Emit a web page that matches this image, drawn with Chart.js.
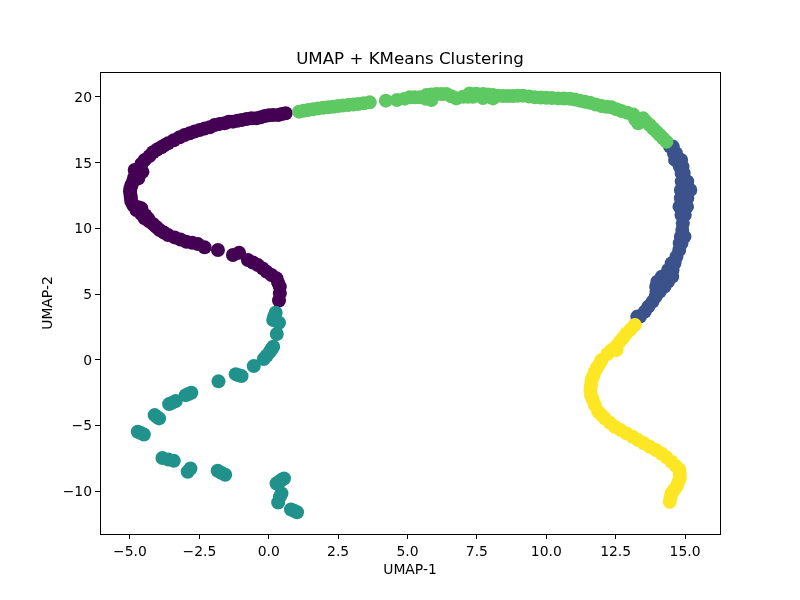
<!DOCTYPE html>
<html>
<head>
<meta charset="utf-8">
<title>UMAP + KMeans Clustering</title>
<script src="https://cdn.jsdelivr.net/npm/chart.js@4"></script>
<style>
  html, body { margin: 0; padding: 0; background: #fff; }
  canvas { display: block; }
</style>
</head>
<body>
<canvas id="chart" width="800" height="600"></canvas>
<script>
const xTicks = [-5, -2.5, 0, 2.5, 5, 7.5, 10, 12.5, 15];
const yTicks = [-10, -5, 0, 5, 10, 15, 20];

const purpleX = [0.61, 0.47, 0.34, 0.16, 0.01, -0.14, -0.29, -0.44, -0.62, -0.80, -0.98, -1.13, -1.29, -1.44, -1.59, -1.77, -1.95, -2.13, -2.31, -2.49, -2.67, -2.85, -3.03, -3.21, -3.42, -3.63, -3.75, -3.87, -4.02, -4.17, -4.30, -4.47, -4.59, -4.83, -4.65, -4.55, -4.77, -4.70, -4.85, -4.89, -4.95, -4.98, -5.00, -4.98, -4.97, -4.95, -4.88, -4.77, -4.70, -4.59, -4.65, -4.60, -4.47, -4.45, -4.35, -4.32, -4.17, -4.05, -3.93, -3.78, -3.63, -3.39, -3.18, -2.97, -2.76, -2.55, -2.31, -1.83, -1.29, -1.07, -0.75, -0.57, -0.39, -0.22, -0.08, 0.10, 0.28, 0.34, 0.40, 0.40, 0.37];
const purpleY = [18.76, 18.70, 18.63, 18.63, 18.60, 18.55, 18.46, 18.38, 18.38, 18.32, 18.25, 18.18, 18.12, 18.12, 18.00, 17.95, 17.87, 17.69, 17.60, 17.49, 17.37, 17.23, 17.10, 16.93, 16.70, 16.47, 16.33, 16.17, 16.00, 15.79, 15.50, 15.20, 14.90, 14.44, 14.55, 14.30, 14.19, 13.80, 13.85, 13.55, 13.30, 13.05, 12.80, 12.54, 12.30, 12.03, 11.75, 11.40, 11.60, 11.52, 11.30, 11.10, 10.76, 11.00, 10.75, 10.55, 10.33, 10.10, 9.87, 9.68, 9.49, 9.31, 9.15, 8.98, 8.90, 8.80, 8.55, 8.35, 7.97, 8.14, 7.59, 7.40, 7.20, 6.95, 6.70, 6.45, 6.19, 5.85, 5.55, 5.05, 4.50];

const tealX = [0.25, 0.20, 0.16, 0.37, 0.29, 0.16, 0.10, 0.04, -0.07, -0.18, -0.54, -1.19, -1.08, -0.98, -1.81, -2.79, -2.89, -2.99, -3.35, -3.47, -3.59, -4.11, -4.03, -3.95, -4.72, -4.61, -4.50, -3.83, -3.62, -3.42, -2.82, -2.92, -1.84, -1.71, -1.57, 0.55, 0.47, 0.42, 0.35, 0.28, 0.46, 0.40, 0.34, 0.80, 0.91, 1.02];
const tealY = [3.58, 3.30, 3.02, 2.81, 1.95, 0.99, 0.80, 0.60, 0.32, 0.05, -0.49, -1.10, -1.18, -1.25, -1.65, -2.52, -2.61, -2.70, -3.15, -3.27, -3.38, -4.22, -4.35, -4.47, -5.49, -5.59, -5.69, -7.49, -7.60, -7.70, -8.28, -8.53, -8.46, -8.61, -8.76, -9.04, -9.14, -9.24, -9.33, -9.42, -10.18, -10.44, -10.87, -11.40, -11.50, -11.61];

const greenX = [1.09, 1.25, 1.42, 1.60, 1.78, 1.96, 2.14, 2.32, 2.50, 2.68, 2.86, 3.04, 3.22, 3.43, 3.64, 4.22, 4.62, 4.90, 5.08, 5.26, 5.44, 5.65, 5.86, 5.68, 5.86, 6.04, 6.22, 6.40, 6.58, 6.76, 7.00, 7.18, 7.36, 7.24, 7.48, 7.72, 7.90, 8.08, 8.08, 7.96, 7.72, 8.26, 8.44, 8.62, 8.80, 8.98, 9.16, 9.38, 9.59, 9.80, 10.00, 10.20, 10.43, 10.64, 10.85, 11.03, 11.21, 11.39, 11.57, 11.78, 11.99, 12.17, 12.35, 12.53, 12.71, 12.92, 13.13, 13.31, 13.20, 13.49, 13.60, 13.73, 13.85, 13.97, 14.09, 14.21, 14.33];
const greenY = [18.88, 18.95, 19.01, 19.07, 19.13, 19.17, 19.21, 19.26, 19.31, 19.35, 19.39, 19.43, 19.46, 19.52, 19.59, 19.72, 19.77, 19.87, 19.97, 19.97, 19.97, 19.87, 19.77, 20.15, 20.18, 20.22, 20.22, 20.22, 20.05, 19.89, 20.02, 20.02, 20.02, 20.27, 20.25, 20.22, 20.18, 20.15, 19.89, 20.02, 19.92, 20.10, 20.07, 20.07, 20.07, 20.09, 20.10, 20.03, 19.97, 19.95, 19.94, 19.92, 19.89, 19.88, 19.87, 19.80, 19.72, 19.64, 19.56, 19.43, 19.31, 19.26, 19.21, 19.07, 18.93, 18.80, 18.67, 17.99, 18.30, 18.37, 18.10, 17.86, 17.60, 17.36, 17.10, 16.85, 16.59];

const blueX = [14.46, 14.56, 14.60, 14.67, 14.64, 14.86, 14.81, 14.91, 14.88, 14.95, 14.88, 15.08, 14.85, 15.00, 15.19, 14.85, 15.08, 14.80, 15.07, 14.87, 14.99, 14.92, 14.90, 14.85, 14.98, 14.81, 14.87, 14.79, 14.69, 14.52, 14.62, 14.39, 14.55, 14.16, 14.33, 14.54, 14.00, 14.21, 14.39, 13.96, 14.15, 14.26, 13.97, 14.09, 13.94, 13.83, 13.68, 13.55, 13.38, 13.28];
const blueY = [16.22, 16.22, 15.71, 15.71, 15.21, 15.21, 14.70, 14.70, 14.19, 14.19, 13.56, 13.56, 12.92, 12.92, 12.92, 12.29, 12.29, 11.65, 11.65, 11.02, 11.02, 10.38, 9.88, 9.37, 9.37, 8.86, 8.86, 8.35, 7.84, 7.34, 7.34, 6.83, 6.83, 6.32, 6.32, 6.32, 5.94, 5.94, 5.94, 5.56, 5.56, 5.56, 5.18, 5.18, 4.80, 4.42, 4.04, 3.66, 3.28, 3.28];

const yellowX = [13.19, 13.04, 12.89, 12.77, 12.65, 12.53, 12.53, 12.35, 12.20, 11.99, 11.93, 11.83, 11.75, 11.69, 11.63, 11.61, 11.59, 11.61, 11.67, 11.75, 11.87, 11.99, 12.11, 12.29, 12.47, 12.68, 12.89, 13.11, 13.31, 13.52, 13.73, 13.95, 14.15, 14.33, 14.51, 14.67, 14.79, 14.81, 14.81, 14.75, 14.69, 14.60, 14.51, 14.48, 14.45];
const yellowY = [2.64, 2.31, 2.00, 1.67, 1.37, 1.04, 0.73, 0.73, 0.43, -0.03, -0.28, -0.59, -0.92, -1.25, -1.55, -1.93, -2.31, -2.69, -3.02, -3.46, -3.96, -4.22, -4.47, -4.80, -5.11, -5.36, -5.61, -5.87, -6.12, -6.37, -6.63, -6.88, -7.14, -7.44, -7.77, -8.10, -8.36, -8.71, -9.04, -9.37, -9.67, -9.93, -10.18, -10.49, -10.82];

const toPoints = (xs, ys) => xs.map((x, i) => ({ x: x, y: ys[i] }));

const makeSet = (xs, ys, color) => ({
    data: toPoints(xs, ys),
    backgroundColor: color,
    borderColor: color,
    borderWidth: 0,
    pointRadius: 7,
    pointHoverRadius: 7,
    clip: false
});

const fmtMinus = (s) => String(s).replace('-', '\u2212');

const frame = {
    id: 'frame',
    beforeDraw(chart) {
        // canvas text sits a bit higher than the reference, nudge the y labels down
        chart.scales.y.getLabelItems().forEach((item) => {
            if (!item.nudged) {
                item.options.translation[1] += 1.5;
                item.nudged = true;
            }
        });
    },
    afterDraw(chart) {
        const a = chart.chartArea, ctx = chart.ctx;
        ctx.save();
        ctx.strokeStyle = '#000';
        ctx.lineWidth = 1;
        ctx.strokeRect(a.left + 0.5, a.top + 0.5, a.right - a.left, a.bottom - a.top);
        ctx.restore();
    }
};

const font = { family: '"DejaVu Sans"', size: 13.9 };

new Chart(document.getElementById('chart').getContext('2d'), {
    type: 'scatter',
    data: {
        datasets: [
            makeSet(yellowX, yellowY, '#fde725'),
            makeSet(greenX, greenY, '#5ec962'),
            makeSet(blueX, blueY, '#3b528b'),
            makeSet(tealX, tealY, '#21918c'),
            makeSet(purpleX, purpleY, '#440154')
        ]
    },
    options: {
        responsive: false,
        animation: false,
        devicePixelRatio: 1,
        layout: { padding: { right: 80, left: 0, top: 0, bottom: 0 } },
        plugins: {
            legend: { display: false },
            tooltip: { enabled: false },
            title: {
                display: true,
                text: 'UMAP + KMeans Clustering',
                color: '#000',
                fullSize: false,
                font: { family: '"DejaVu Sans"', size: 16.67, weight: 'normal' },
                padding: { top: 50, bottom: 2 }
            }
        },
        scales: {
            x: {
                type: 'linear',
                min: -6.08,
                max: 16.26,
                afterBuildTicks: (scale) => { scale.ticks = xTicks.map(v => ({ value: v })); },
                afterFit: (scale) => { scale.height = 66; },
                grid: { drawOnChartArea: false, tickLength: 5, tickColor: '#000', tickWidth: 1 },
                border: { display: false },
                ticks: {
                    color: '#000',
                    font: font,
                    maxRotation: 0,
                    autoSkip: false,
                    padding: 5,
                    callback: (v) => fmtMinus(v.toFixed(1))
                },
                title: { display: true, text: 'UMAP-1', color: '#000', font: font, padding: { top: 2, bottom: 21 } }
            },
            y: {
                type: 'linear',
                min: -13.27,
                max: 21.9,
                afterBuildTicks: (scale) => { scale.ticks = yTicks.map(v => ({ value: v })); },
                afterFit: (scale) => { scale.width = 100; },
                grid: { drawOnChartArea: false, tickLength: 5, tickColor: '#000', tickWidth: 1 },
                border: { display: false },
                ticks: {
                    color: '#000',
                    font: font,
                    autoSkip: false,
                    padding: 3,
                    callback: (v) => fmtMinus(v)
                },
                title: { display: true, text: 'UMAP-2', color: '#000', font: font, padding: { top: 40, bottom: 0 } }
            }
        }
    },
    plugins: [frame]
});
</script>
</body>
</html>
